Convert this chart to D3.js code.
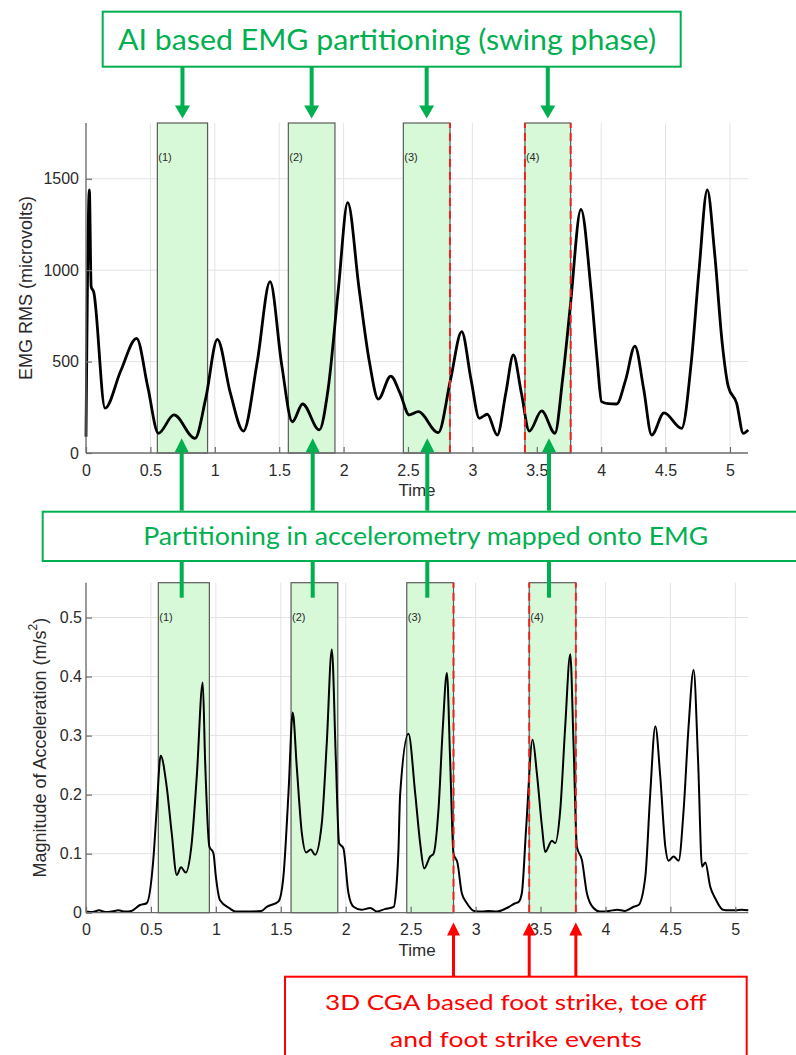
<!DOCTYPE html>
<html>
<head>
<meta charset="utf-8">
<script src="https://cdn.jsdelivr.net/npm/d3@7/dist/d3.min.js"></script>
<style>
  html, body { margin: 0; padding: 0; background: #fff; }
  svg { display: block; }
</style>
</head>
<body>
<script>
// ---------------- DATA ----------------
// EMG RMS (microvolts) vs time (s)
const emgTime = [0, 0.026, 0.04, 0.06, 0.148, 0.27, 0.393, 0.48, 0.562, 0.683, 0.846, 0.93, 1.02, 1.12, 1.222, 1.33, 1.429, 1.52, 1.602, 1.682, 1.811, 1.88, 1.96, 2.032, 2.12, 2.2, 2.27, 2.366, 2.438, 2.51, 2.58, 2.735, 2.83, 2.917, 2.99, 3.054, 3.116, 3.193, 3.26, 3.318, 3.38, 3.442, 3.538, 3.641, 3.70, 3.76, 3.843, 3.92, 3.97, 4.003, 4.055, 4.12, 4.19, 4.262, 4.33, 4.392, 4.488, 4.625, 4.70, 4.76, 4.824, 4.88, 4.94, 4.987, 5.052, 5.103, 5.142];
const emgValue = [89, 1439, 910, 880, 245, 450, 627, 360, 108, 208, 80, 300, 622, 330, 120, 500, 937, 480, 171, 268, 126, 350, 900, 1369, 900, 500, 295, 421, 327, 208, 226, 111, 400, 664, 400, 190, 212, 98, 330, 536, 330, 120, 230, 108, 400, 800, 1333, 900, 500, 281, 270, 268, 400, 585, 350, 98, 220, 135, 500, 1000, 1439, 1100, 600, 363, 272, 108, 126];

// Magnitude of acceleration (m/s^2) vs time (s)
const accTime = [0, 0.05, 0.1, 0.15, 0.2, 0.25, 0.3, 0.35, 0.416, 0.467, 0.518, 0.544, 0.575, 0.621, 0.66, 0.699, 0.732, 0.768, 0.814, 0.853, 0.899, 0.917, 0.95, 0.981, 1.0, 1.032, 1.109, 1.15, 1.25, 1.35, 1.392, 1.482, 1.52, 1.559, 1.592, 1.623, 1.662, 1.695, 1.731, 1.764, 1.816, 1.854, 1.893, 1.924, 1.949, 1.982, 2.021, 2.06, 2.12, 2.19, 2.24, 2.3, 2.37, 2.385, 2.406, 2.419, 2.483, 2.535, 2.573, 2.604, 2.65, 2.676, 2.714, 2.748, 2.779, 2.804, 2.83, 2.861, 2.894, 2.933, 2.989, 3.05, 3.1, 3.163, 3.241, 3.305, 3.33, 3.356, 3.39, 3.439, 3.472, 3.511, 3.536, 3.588, 3.613, 3.652, 3.69, 3.729, 3.754, 3.78, 3.819, 3.857, 3.908, 3.96, 4.03, 4.09, 4.15, 4.217, 4.255, 4.307, 4.345, 4.384, 4.422, 4.461, 4.486, 4.525, 4.563, 4.602, 4.64, 4.679, 4.713, 4.744, 4.769, 4.807, 4.846, 4.905, 4.95, 5.0, 5.05, 5.10];
const accValue = [0.002, 0.001, 0.004, 0.001, 0.002, 0.004, 0.002, 0.003, 0.013, 0.016, 0.089, 0.174, 0.266, 0.214, 0.135, 0.064, 0.077, 0.068, 0.118, 0.231, 0.39, 0.259, 0.112, 0.101, 0.061, 0.021, 0.007, 0.002, 0.002, 0.003, 0.010, 0.019, 0.061, 0.202, 0.339, 0.247, 0.135, 0.102, 0.107, 0.098, 0.152, 0.287, 0.446, 0.259, 0.118, 0.109, 0.033, 0.010, 0.005, 0.008, 0.002, 0.006, 0.010, 0.03, 0.106, 0.2, 0.303, 0.202, 0.118, 0.075, 0.095, 0.1, 0.174, 0.315, 0.406, 0.259, 0.1, 0.084, 0.033, 0.016, 0.003, 0.002, 0.003, 0.002, 0.008, 0.016, 0.018, 0.033, 0.146, 0.293, 0.236, 0.146, 0.103, 0.122, 0.118, 0.174, 0.315, 0.438, 0.287, 0.112, 0.089, 0.033, 0.008, 0.002, 0.003, 0.005, 0.003, 0.010, 0.013, 0.061, 0.202, 0.316, 0.231, 0.112, 0.088, 0.095, 0.088, 0.174, 0.315, 0.411, 0.259, 0.078, 0.085, 0.044, 0.024, 0.005, 0.004, 0.004, 0.005, 0.004];

// Swing-phase partitions [start, end] (s)
const emgPartitions = [[0.554, 0.944], [1.571, 1.933], [2.464, 2.826], [3.408, 3.763]];
const accPartitions = [[0.557, 0.950], [1.579, 1.939], [2.470, 2.830], [3.413, 3.772]];
const partitionLabels = ["(1)", "(2)", "(3)", "(4)"];

// 3D CGA events (foot strike, toe off, foot strike)
const emgEvents = [2.826, 3.408, 3.763];
const accEvents = [2.830, 3.413, 3.772];

// Ticks
const timeTicks = [0, 0.5, 1, 1.5, 2, 2.5, 3, 3.5, 4, 4.5, 5];
const emgTicks = [0, 500, 1000, 1500];
const accTicks = [0, 0.1, 0.2, 0.3, 0.4, 0.5];

// Texts
const topBoxText = "AI based EMG partitioning (swing phase)";
const midBoxText = "Partitioning in accelerometry mapped onto EMG";
const redBoxLines = ["3D CGA based foot strike, toe off", "and foot strike events"];
const emgYLabel = "EMG RMS (microvolts)";
const xLabel = "Time";

// ---------------- DRAWING ----------------
const W = 796, H = 1055;
const GREEN = "#00b050", RED = "#ff0000";
const FONT = "'Liberation Sans', Arial, Helvetica, sans-serif";
const ANNOT_FONT = "Lato, 'Open Sans', sans-serif";

const svg = d3.select("body").append("svg").attr("width", W).attr("height", H)
  .style("font-family", FONT);

function panel(cfg) {
  const x = d3.scaleLinear().domain(cfg.xDomain).range([cfg.left, cfg.right]);
  const y = d3.scaleLinear().domain(cfg.yDomain).range([cfg.bottom, cfg.top]);
  const g = svg.append("g");

  // grid
  g.append("g").selectAll("line").data(timeTicks).join("line")
    .attr("x1", d => x(d)).attr("x2", d => x(d))
    .attr("y1", cfg.bottom).attr("y2", cfg.top)
    .attr("stroke", "#e3e3e3").attr("stroke-width", 1);
  g.append("g").selectAll("line").data(cfg.yTicks.filter(d => d > 0)).join("line")
    .attr("x1", cfg.left).attr("x2", cfg.right)
    .attr("y1", d => y(d)).attr("y2", d => y(d))
    .attr("stroke", "#e3e3e3").attr("stroke-width", 1);

  // partitions
  g.append("g").selectAll("rect").data(cfg.partitions).join("rect")
    .attr("x", d => x(d[0])).attr("width", d => x(d[1]) - x(d[0]))
    .attr("y", cfg.top).attr("height", cfg.bottom - cfg.top)
    .attr("fill", "#d7f9d7").attr("stroke", "#5a5a5a").attr("stroke-width", 1.2);

  g.append("g").selectAll("text").data(cfg.partitions).join("text")
    .attr("x", d => x(d[0]) + 1).attr("y", cfg.top + cfg.labelDy)
    .attr("font-size", 11).attr("fill", "#2b2b2b")
    .text((d, i) => partitionLabels[i]);

  // curve
  const line = d3.line().x(d => x(d[0])).y(d => y(d[1])).curve(d3.curveMonotoneX);
  g.append("path").datum(cfg.t.map((t, i) => [t, cfg.v[i]]))
    .attr("d", line).attr("fill", "none").attr("stroke", "#000")
    .attr("stroke-width", cfg.lineWidth).attr("stroke-linejoin", "round");

  // events (red dashed)
  g.append("g").selectAll("line").data(cfg.events).join("line")
    .attr("x1", d => x(d)).attr("x2", d => x(d))
    .attr("y1", cfg.bottom).attr("y2", cfg.top)
    .attr("stroke", "#ee2222").attr("stroke-width", 2)
    .attr("stroke-dasharray", "8,5");

  // axes
  const xAxis = d3.axisBottom(x).tickValues(timeTicks)
    .tickFormat(d3.format("~g")).tickSizeInner(-6).tickSizeOuter(0).tickPadding(cfg.xPad);
  const gx = g.append("g").attr("transform", `translate(0,${cfg.bottom})`).call(xAxis);
  const yAxis = d3.axisLeft(y).tickValues(cfg.yTicks)
    .tickFormat(d3.format("~g")).tickSizeInner(-6).tickSizeOuter(0).tickPadding(cfg.yPad);
  const gy = g.append("g").attr("transform", `translate(${cfg.left},0)`).call(yAxis);
  [gx, gy].forEach(a => {
    a.select(".domain").attr("stroke", "#6b6b6b").attr("stroke-width", 1.3);
    a.selectAll(".tick line").attr("stroke", "#6b6b6b").attr("stroke-width", 1.2);
    a.selectAll(".tick text").attr("fill", "#2b2b2b").attr("font-size", 16).attr("font-family", FONT);
  });
  gy.select(".domain").attr("d", `M0,${cfg.bottom}V${cfg.top}`);
  gx.select(".domain").attr("d", `M${cfg.left},0H${cfg.right}`);

  // x label
  g.append("text").attr("x", (cfg.left + cfg.right) / 2).attr("y", cfg.bottom + cfg.xLabelDy)
    .attr("text-anchor", "middle").attr("font-size", 17).attr("fill", "#2b2b2b").text(xLabel);

  // y label
  const yl = g.append("text")
    .attr("transform", `translate(${cfg.yLabelX},${(cfg.top + cfg.bottom) / 2}) rotate(-90)`)
    .attr("text-anchor", "middle").attr("font-size", 18).attr("fill", "#2b2b2b")
    .attr("dominant-baseline", "central");
  cfg.yLabel(yl);
  return x;
}

const xTop = panel({
  xDomain: [0, 5.14], yDomain: [0, 1805],
  left: 86, right: 748, top: 123, bottom: 453,
  t: emgTime, v: emgValue, partitions: emgPartitions, events: emgEvents,
  yTicks: emgTicks, xPad: 12, yPad: 7, xLabelDy: 43, yLabelX: 26, labelDy: 38,
  lineWidth: 2.8,
  yLabel: t => t.text(emgYLabel)
});

const xBot = panel({
  xDomain: [0, 5.10], yDomain: [0, 0.559],
  left: 86, right: 748.3, top: 582.7, bottom: 912.7,
  t: accTime, v: accValue, partitions: accPartitions, events: accEvents,
  yTicks: accTicks, xPad: 11, yPad: 4, xLabelDy: 43, yLabelX: 40, labelDy: 38,
  lineWidth: 2,
  yLabel: t => {
    t.append("tspan").text("Magnitude of Acceleration (m/s");
    t.append("tspan").attr("baseline-shift", "super").attr("font-size", 12).text("2");
    t.append("tspan").text(")");
  }
});

// ---------------- ANNOTATIONS ----------------
const ann = svg.append("g");

function arrowHead(g, xc, tipY, dir, w, h, color) {
  const baseY = tipY - dir * h;
  g.append("path")
    .attr("d", `M${xc - w / 2},${baseY}L${xc + w / 2},${baseY}L${xc},${tipY}Z`)
    .attr("fill", color);
}

// Top box
ann.append("rect").attr("x", 102.7).attr("y", 11.7).attr("width", 578).attr("height", 55)
  .attr("fill", "#fff").attr("stroke", GREEN).attr("stroke-width", 2);
ann.append("text").attr("x", 118).attr("y", 50).attr("font-family", ANNOT_FONT)
  .attr("font-size", 29).attr("fill", GREEN)
  .attr("textLength", 538).attr("lengthAdjust", "spacingAndGlyphs").text(topBoxText);

const topArrowX = emgPartitions.map(d => xTop((d[0] + d[1]) / 2));
topArrowX.forEach(xc => {
  ann.append("line").attr("x1", xc).attr("x2", xc).attr("y1", 67).attr("y2", 106)
    .attr("stroke", GREEN).attr("stroke-width", 4);
  arrowHead(ann, xc, 118.5, 1, 15, 13, GREEN);
});

// Middle box
ann.append("rect").attr("x", 42.7).attr("y", 511.7).attr("width", 770).attr("height", 49.3)
  .attr("fill", "#fff").attr("stroke", GREEN).attr("stroke-width", 2);
ann.append("text").attr("x", 143.3).attr("y", 545).attr("font-family", ANNOT_FONT)
  .attr("font-size", 25).attr("fill", GREEN)
  .attr("textLength", 565).attr("lengthAdjust", "spacingAndGlyphs").text(midBoxText);

const midArrowX = [181.7, 312.7, 427.3, 549];
midArrowX.forEach(xc => {
  ann.append("line").attr("x1", xc).attr("x2", xc).attr("y1", 510.7).attr("y2", 450)
    .attr("stroke", GREEN).attr("stroke-width", 4);
  arrowHead(ann, xc, 438.3, -1, 14, 14, GREEN);
  ann.append("line").attr("x1", xc).attr("x2", xc).attr("y1", 562).attr("y2", 597.7)
    .attr("stroke", GREEN).attr("stroke-width", 4);
});

// Red box
ann.append("rect").attr("x", 285).attr("y", 976.7).attr("width", 461.7).attr("height", 100)
  .attr("fill", "#fff").attr("stroke", RED).attr("stroke-width", 2);
ann.append("text").attr("x", 325).attr("y", 1010).attr("font-family", ANNOT_FONT)
  .attr("font-size", 22).attr("fill", RED)
  .attr("textLength", 381.7).attr("lengthAdjust", "spacingAndGlyphs").text(redBoxLines[0]);
ann.append("text").attr("x", 390).attr("y", 1046.7).attr("font-family", ANNOT_FONT)
  .attr("font-size", 22).attr("fill", RED)
  .attr("textLength", 251.7).attr("lengthAdjust", "spacingAndGlyphs").text(redBoxLines[1]);

accEvents.forEach(ev => {
  const xc = xBot(ev);
  ann.append("line").attr("x1", xc).attr("x2", xc).attr("y1", 976).attr("y2", 932)
    .attr("stroke", RED).attr("stroke-width", 3);
  arrowHead(ann, xc, 922.5, -1, 13, 13, RED);
});
</script>
</body>
</html>
